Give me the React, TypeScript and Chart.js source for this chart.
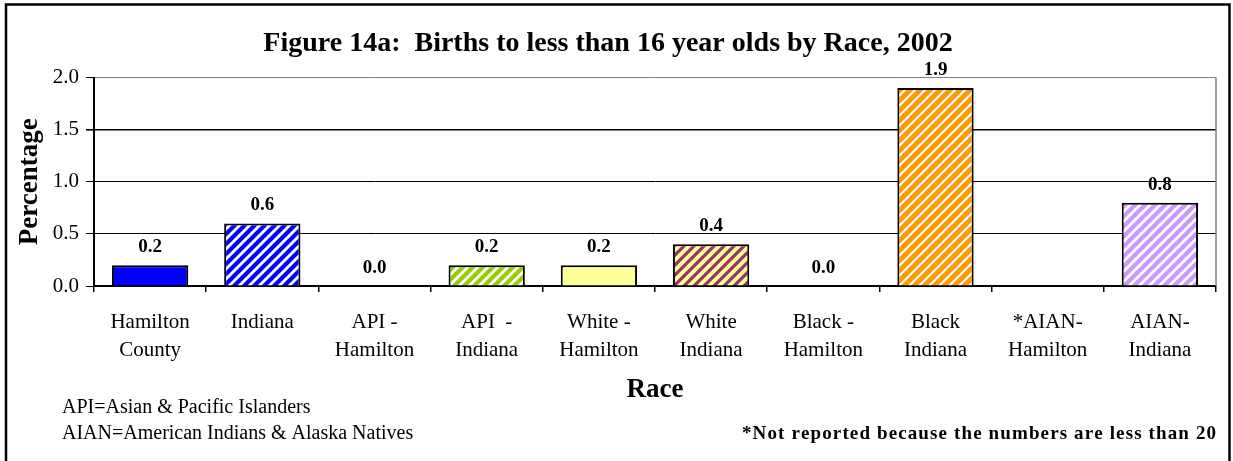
import React, { useEffect, useRef } from 'react';
import { Chart, registerables } from 'chart.js';

Chart.register(...registerables);

// ---- data ----
const categories: string[][] = [
  ['Hamilton', 'County'],
  ['Indiana'],
  ['API -', 'Hamilton'],
  ['API  -', 'Indiana'],
  ['White -', 'Hamilton'],
  ['White', 'Indiana'],
  ['Black -', 'Hamilton'],
  ['Black', 'Indiana'],
  ['*AIAN-', 'Hamilton'],
  ['AIAN-', 'Indiana'],
];
const percentages: (number | null)[] = [0.2, 0.6, 0.0, 0.2, 0.2, 0.4, 0.0, 1.9, null, 0.8];
const yMin = 0;
const yMax = 2;
const yStep = 0.5;

const titleText = 'Figure 14a:  Births to less than 16 year olds by Race, 2002';
const yTitle = 'Percentage';
const xTitle = 'Race';
const noteLines = ['API=Asian & Pacific Islanders', 'AIAN=American Indians & Alaska Natives'];
const noteRight = '*Not reported because the numbers are less than 20';

// ---- styles ----
const SERIF = '"Liberation Serif", "Times New Roman", Times, serif';
const fills = [
  { bg: '#0000FF', fg: null, w: 0 },
  { bg: '#FFFFFF', fg: '#0000FF', w: 4.2 },
  { bg: '#FFFFFF', fg: '#3366FF', w: 4 },
  { bg: '#FFFFFF', fg: '#99CC00', w: 4.2 },
  { bg: '#FFFF99', fg: null, w: 0 },
  { bg: '#FFFF99', fg: '#993366', w: 3.2 },
  { bg: '#FFFFFF', fg: '#000000', w: 2 },
  { bg: '#FFFFFF', fg: '#FF9900', w: 4.9 },
  { bg: '#FFFFFF', fg: '#000000', w: 2 },
  { bg: '#FFFFFF', fg: '#CC99FF', w: 4.3 },
];

function makeFill(bg: string, fg: string | null, w: number): string | CanvasPattern {
  if (!fg) return bg;
  const s = 10;
  const c = document.createElement('canvas');
  c.width = s;
  c.height = s;
  const x = c.getContext('2d')!;
  x.fillStyle = bg;
  x.fillRect(0, 0, s, s);
  x.strokeStyle = fg;
  x.lineWidth = w;
  x.beginPath();
  x.moveTo(-1, s + 1);
  x.lineTo(s + 1, -1);
  x.moveTo(-s / 2 - 1, s / 2 + 1);
  x.lineTo(s / 2 + 1, -s / 2 - 1);
  x.moveTo(s / 2 - 1, s * 1.5 + 1);
  x.lineTo(s * 1.5 + 1, s / 2 - 1);
  x.stroke();
  const p = document.createElement('canvas').getContext('2d')!.createPattern(c, 'repeat');
  return p || bg;
}

const decorPlugin = {
  id: 'decor',
  beforeDraw(chart: any) {
    const { ctx, width, height } = chart;
    ctx.save();
    ctx.fillStyle = '#FFFFFF';
    ctx.fillRect(0, 0, width, height);
    ctx.restore();
  },
  beforeDatasetsDraw(chart: any) {
    const { ctx, chartArea } = chart;
    ctx.save();
    ctx.strokeStyle = '#808080';
    ctx.lineWidth = 1.5;
    ctx.beginPath();
    ctx.moveTo(chartArea.right, chartArea.top);
    ctx.lineTo(chartArea.right, chartArea.bottom);
    ctx.stroke();
    ctx.restore();
  },
  afterDatasetsDraw(chart: any) {
    const { ctx } = chart;
    const meta = chart.getDatasetMeta(0);
    const data = chart.data.datasets[0].data;
    ctx.save();
    ctx.font = `bold 19px ${SERIF}`;
    ctx.fillStyle = '#000000';
    ctx.textAlign = 'center';
    ctx.textBaseline = 'middle';
    meta.data.forEach((el: any, i: number) => {
      const v = data[i];
      if (v === null || v === undefined) return;
      ctx.fillText(Number(v).toFixed(1), el.x, el.y - 18);
    });
    ctx.restore();
  },
  afterDraw(chart: any) {
    const { ctx, chartArea } = chart;
    ctx.save();
    ctx.fillStyle = '#000000';
    ctx.textBaseline = 'middle';
    ctx.textAlign = 'left';
    ctx.font = `20px ${SERIF}`;
    ctx.fillText(noteLines[0], 62, 408);
    ctx.fillText(noteLines[1], 62, 434);

    // right footnote, bold, letter-spaced, right-aligned at plot right edge
    ctx.font = `bold 19px ${SERIF}`;
    const chars = noteRight.split('');
    const widths = chars.map((ch) => ctx.measureText(ch).width);
    const natural = widths.reduce((a, b) => a + b, 0);
    const targetW = 474;
    const gap = Math.max(0, (targetW - natural) / (chars.length - 1));
    const total = natural + gap * (chars.length - 1);
    let x = chartArea.right - total;
    chars.forEach((ch, i) => {
      ctx.fillText(ch, x, 434);
      x += widths[i] + gap;
    });

    // outer frame
    ctx.strokeStyle = '#000000';
    ctx.lineWidth = 2.5;
    ctx.strokeRect(6, 4.5, 1223.5, 520);
    ctx.restore();
  },
};

export default function App() {
  const ref = useRef<HTMLCanvasElement | null>(null);

  useEffect(() => {
    document.body.style.margin = '0';
    const canvas = ref.current;
    if (!canvas) return;
    const bgs = fills.map((f) => makeFill(f.bg, f.fg, f.w));

    const chart = new Chart(canvas, {
      type: 'bar',
      data: {
        labels: categories,
        datasets: [
          {
            data: percentages,
            backgroundColor: bgs,
            borderColor: '#000000',
            borderWidth: 2,
            barPercentage: 0.68,
            categoryPercentage: 1,
          },
        ],
      },
      options: {
        animation: false,
        responsive: false,
        maintainAspectRatio: false,
        devicePixelRatio: 1,
        layout: { padding: { left: 0, right: 17, top: 0, bottom: 0 } },
        plugins: {
          legend: { display: false },
          tooltip: { enabled: false },
          title: {
            display: true,
            text: titleText,
            color: '#000000',
            font: { family: SERIF, size: 28, weight: 'bold' },
            padding: { top: 27, bottom: 17 },
          },
        },
        scales: {
          x: {
            grid: {
              display: true,
              drawOnChartArea: false,
              drawTicks: true,
              tickLength: 6,
              color: '#000000',
              tickColor: '#000000',
              lineWidth: 1.5,
              offset: true,
            },
            border: { display: true, color: '#000000', width: 2 },
            ticks: {
              color: '#000000',
              font: { family: SERIF, size: 21, lineHeight: 1.35 },
              padding: 16,
              maxRotation: 0,
              minRotation: 0,
              autoSkip: false,
            },
            title: {
              display: true,
              text: xTitle,
              color: '#000000',
              font: { family: SERIF, size: 27, weight: 'bold' },
              padding: { top: 0, bottom: 55 },
            },
            afterFit(scale: any) {
              scale.height = 175;
            },
          },
          y: {
            min: yMin,
            max: yMax,
            grid: {
              color: (c: any) => (c.tick && c.tick.value === yMax ? '#808080' : '#000000'),
              lineWidth: (c: any) => (c.tick && c.tick.value === 1.5 ? 1.6 : 1),
              tickColor: '#000000',
              tickLength: 8,
              drawTicks: true,
            },
            border: { display: true, color: '#000000', width: 2 },
            ticks: {
              stepSize: yStep,
              color: '#000000',
              font: { family: SERIF, size: 21 },
              padding: 7,
              callback: (v: any) => Number(v).toFixed(1),
            },
            title: {
              display: true,
              text: yTitle,
              color: '#000000',
              font: { family: SERIF, size: 27, weight: 'bold' },
              padding: { top: 14, bottom: 0 },
            },
            afterFit(scale: any) {
              scale.width = 94;
            },
          },
        },
      },
      plugins: [decorPlugin],
    });

    return () => chart.destroy();
  }, []);

  return (
    <div style={{ position: 'absolute', left: 0, top: 0, width: 1233, height: 461 }}>
      <canvas ref={ref} width={1233} height={461} style={{ display: 'block', width: 1233, height: 461 }} />
    </div>
  );
}
